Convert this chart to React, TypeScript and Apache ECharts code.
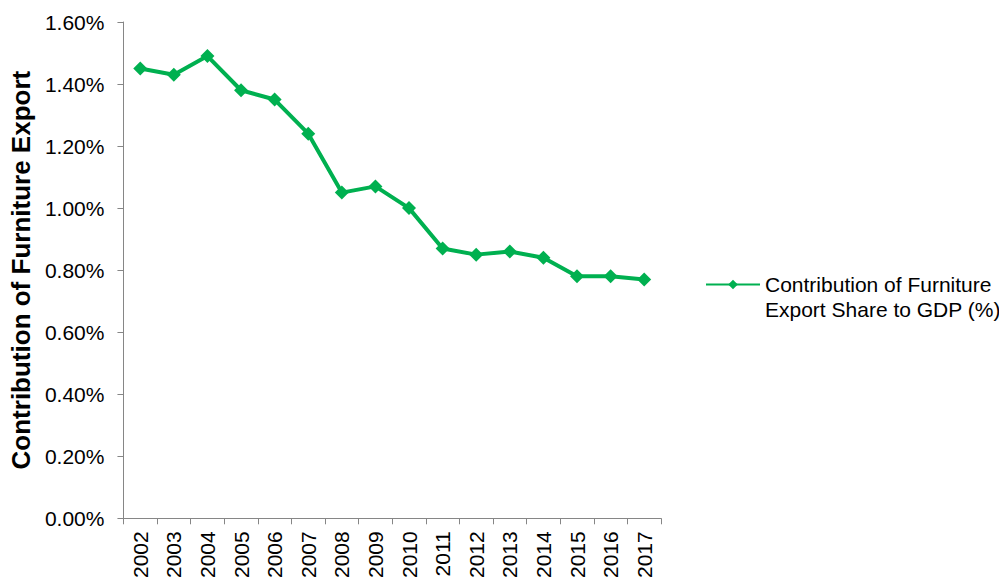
import React, { useEffect, useRef } from "react";
import * as echarts from "echarts";

const years = ["2002","2003","2004","2005","2006","2007","2008","2009","2010","2011","2012","2013","2014","2015","2016","2017"];
const shares = [1.45, 1.43, 1.49, 1.38, 1.35, 1.24, 1.05, 1.07, 1.0, 0.87, 0.85, 0.86, 0.84, 0.78, 0.78, 0.77];
const seriesName = "Contribution of Furniture\nExport Share to GDP (%)";
const yAxisTitle = "Contribution of Furniture Export";

export default function App() {
  const ref = useRef<HTMLDivElement>(null);
  useEffect(() => {
    const chart = echarts.init(ref.current!, null, { renderer: "svg" });
    const font = "'Liberation Sans', Arial, sans-serif";
    chart.setOption({
      animation: false,
      textStyle: { fontFamily: font },
      grid: { left: 122, right: 338, top: 22, bottom: 60 },
      legend: {
        data: [seriesName],
        orient: "vertical",
        left: 700,
        top: 242,
        itemWidth: 54,
        itemHeight: 12,
        itemGap: 5,
        formatter: (name: string) => "\n" + name,
        textStyle: {
          fontSize: 21,
          color: "#000",
          fontFamily: font,
          lineHeight: 25,
        },
      },
      xAxis: {
        type: "category",
        data: years,
        boundaryGap: true,
        axisLine: { lineStyle: { color: "#868686", width: 1 } },
        axisTick: { show: true, length: 6, alignWithLabel: false, lineStyle: { color: "#868686" } },
        axisLabel: { rotate: 90, fontSize: 21, color: "#000", fontFamily: font, margin: 13 },
      },
      yAxis: {
        type: "value",
        min: 0,
        max: 1.6,
        interval: 0.2,
        name: yAxisTitle,
        nameLocation: "middle",
        nameGap: 88,
        nameTextStyle: { fontSize: 26, fontWeight: "bold", color: "#000", fontFamily: font },
        axisLine: { show: true, lineStyle: { color: "#868686", width: 1 } },
        axisTick: { show: true, length: 6, lineStyle: { color: "#868686" } },
        splitLine: { show: false },
        axisLabel: {
          fontSize: 21,
          color: "#000",
          fontFamily: font,
          margin: 19,
          formatter: (v: number) => v.toFixed(2) + "%",
        },
      },
      series: [
        {
          name: seriesName,
          type: "line",
          data: shares,
          symbol: "diamond",
          symbolSize: 14,
          lineStyle: { color: "#00B050", width: 4 },
          itemStyle: { color: "#00B050" },
        },
      ],
    });
    return () => chart.dispose();
  }, []);
  return <div ref={ref} style={{ width: 999, height: 581, position: "absolute", left: 0, top: 0 }} />;
}
